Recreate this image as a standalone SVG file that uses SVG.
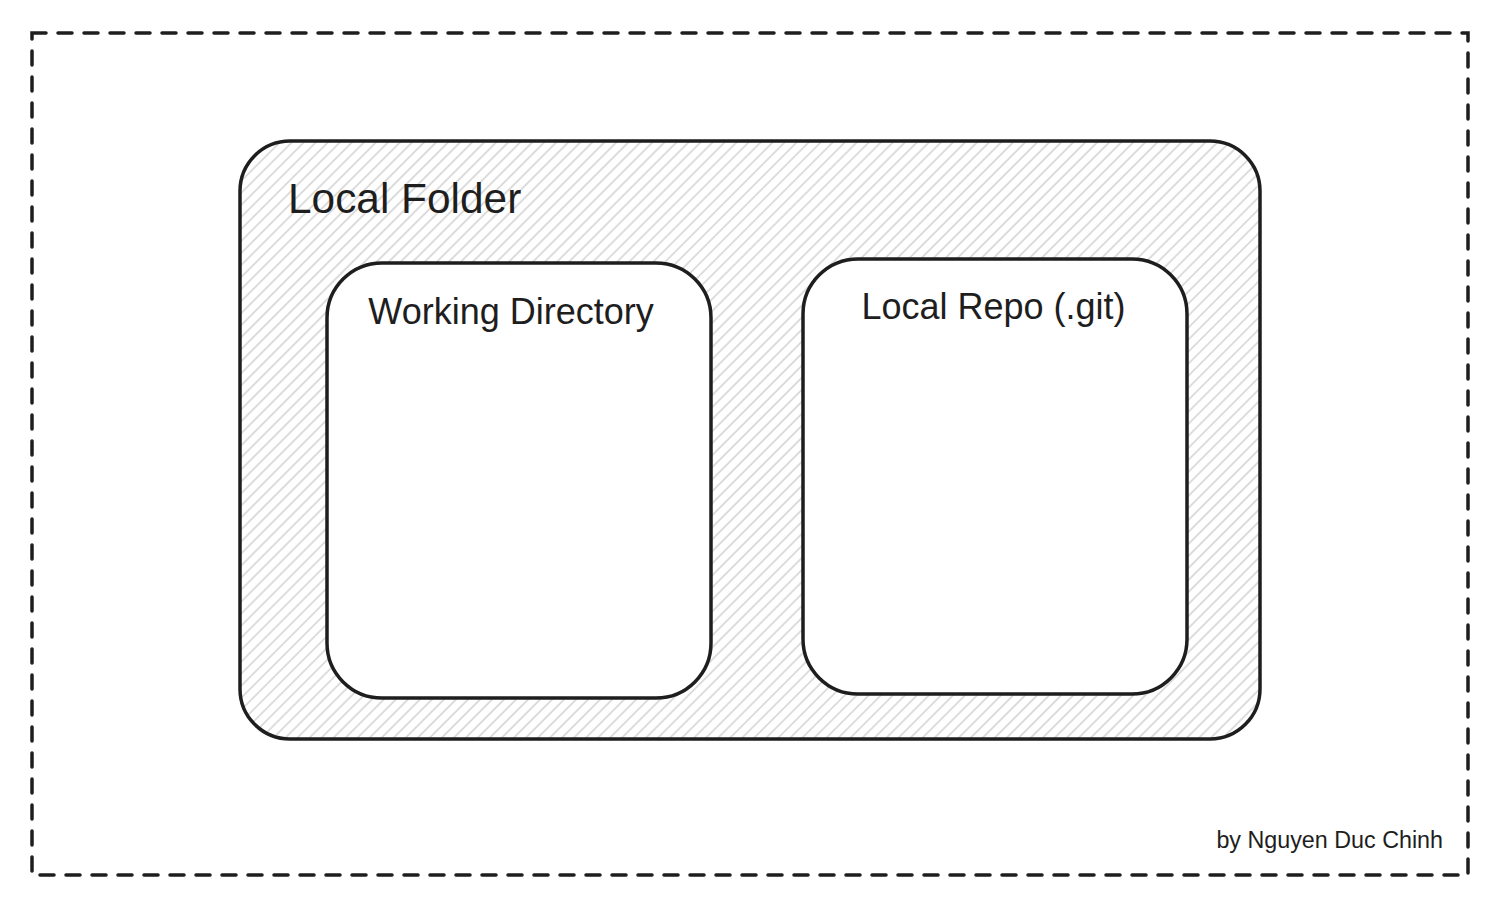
<svg xmlns="http://www.w3.org/2000/svg" width="1500" height="907" viewBox="0 0 1500 907">
<style>
.box{fill:#fff;stroke:#1e1e1e;stroke-width:3.5}
.t{font-family:"Liberation Sans",Arial,sans-serif;fill:#1e1e1e}
</style>
<defs>
<pattern id="hatch" patternUnits="userSpaceOnUse" width="8.5" height="8.5" patternTransform="rotate(45)">
<line x1="1" y1="0" x2="1" y2="8.5" stroke="#c2c2c2" stroke-width="1.1"/>
</pattern>
</defs>
<rect width="1500" height="907" fill="#fff"/>
<g id="frame">
<rect x="32" y="33" width="1436" height="842" fill="none" stroke="#1e1e1e" stroke-width="3.5" stroke-dasharray="14 12" stroke-linecap="round"/>
</g>
<g id="local-folder">
<rect x="240" y="141" width="1020" height="598" rx="50" ry="50" fill="#fff" stroke="none"/>
<rect x="240" y="141" width="1020" height="598" rx="50" ry="50" fill="url(#hatch)" stroke="#1e1e1e" stroke-width="3.5"/>
<text class="t" x="288" y="213" font-size="42.4">Local Folder</text>
</g>
<g id="working-directory">
<rect class="box" x="327" y="263" width="384" height="435" rx="55" ry="55"/>
<text class="t" x="511" y="324" font-size="36" text-anchor="middle">Working Directory</text>
</g>
<g id="local-repo">
<rect class="box" x="803" y="259" width="384" height="435" rx="55" ry="55"/>
<text class="t" x="993.5" y="319" font-size="36" text-anchor="middle">Local Repo (.git)</text>
</g>
<g id="connectors"></g>
<text class="t" x="1443" y="848" font-size="23.3" text-anchor="end">by Nguyen Duc Chinh</text>
</svg>
